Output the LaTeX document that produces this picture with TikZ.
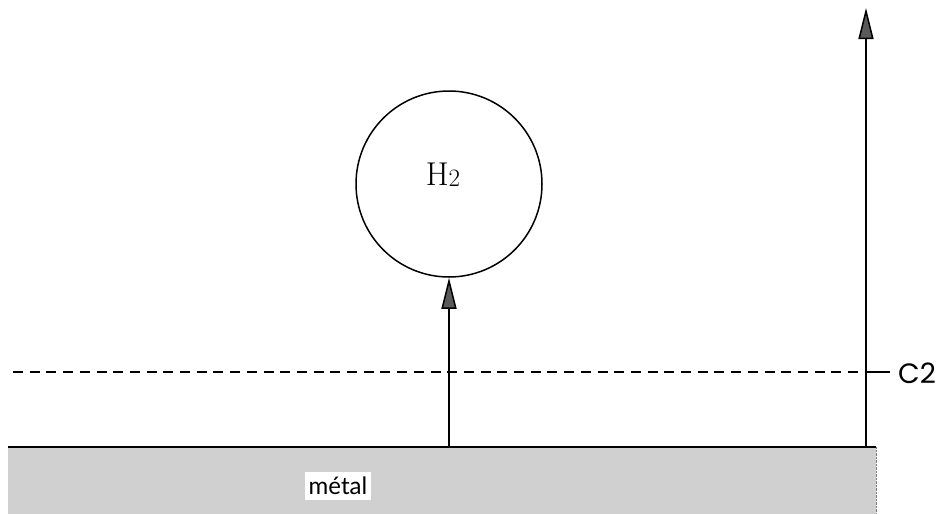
\documentclass[tikz,border=0pt]{standalone}
\usepackage{fontspec}
\newfontfamily\labelfont{Poppins}
\newfontfamily\metalfont{Lato}
\usetikzlibrary{arrows.meta}
\definecolor{metalgray}{RGB}{208,208,208}
\definecolor{tipgray}{RGB}{90,90,90}
\tikzset{
  uparrow/.style={line width=1.5pt, -{Triangle[length=31pt,width=15pt,fill=tipgray]}},
  baseline/.style={line width=1.8pt},
  guide/.style={line width=1.7pt, dash pattern=on 10pt off 6.7pt},
}
\begin{document}
\begin{tikzpicture}[x=1pt,y=-1pt]
\useasboundingbox (0,0) rectangle (940,514);
% metal block
\fill[metalgray] (8,447) rectangle (876,514);
\draw[densely dotted, gray] (876,447) -- (876,514);
\draw[baseline] (8,447) coordinate (mL) -- (876,447) coordinate (mR);
\node[fill=white, inner xsep=4pt, inner ysep=5pt, font=\metalfont\fontsize{24}{24}\selectfont] (metal) at (338,486) {métal};
% molecule
\node[draw, circle, line width=1.5pt, minimum size=186pt, inner sep=0pt] (h2) at (449,184) {};
\node[font=\fontsize{33}{33}\selectfont] (h2lab) at (443,175) {H\raisebox{-1pt}{\fontsize{25}{25}\selectfont 2}};
\coordinate (a1) at (449,447);
\draw[uparrow] (a1) -- (h2.south);
% right axis
\coordinate (a2) at (866,447);
\coordinate (a2top) at (866,8);
\draw[uparrow] (a2) -- (a2top);
% C2 level
\coordinate (c2L) at (13,372);
\coordinate (c2M) at (866,372);
\coordinate (c2R) at (890,372);
\draw[guide] (c2L) -- (c2M);
\draw[line width=1.5pt] (c2M) -- (c2R);
\node[anchor=west, font=\labelfont\fontsize{28}{28}\selectfont, inner sep=0pt] (c2) at (898,373) {C2};
\end{tikzpicture}
\end{document}
